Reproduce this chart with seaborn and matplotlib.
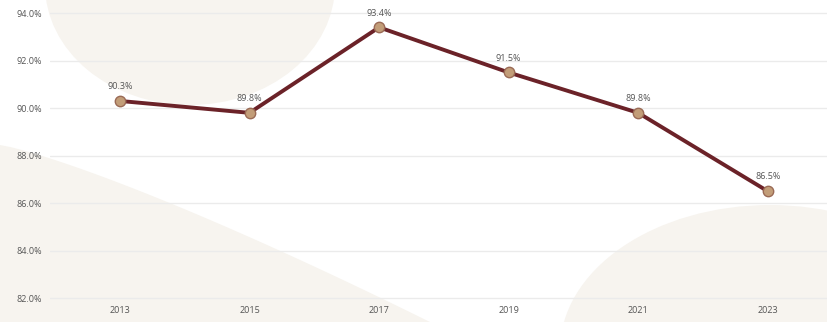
import numpy as np
import pandas as pd
import seaborn as sns
import matplotlib.pyplot as plt
from matplotlib.patches import Ellipse, Polygon

# values
years = [2013, 2015, 2017, 2019, 2021, 2023]
rates = [90.3, 89.8, 93.4, 91.5, 89.8, 86.5]
labels = ['90.3%', '89.8%', '93.4%', '91.5%', '89.8%', '86.5%']
yticks = [82, 84, 86, 88, 90, 92, 94]

df = pd.DataFrame({'year': years, 'rate': rates})

sns.set_theme(style='white')
plt.rcParams['font.family'] = ['Open Sans', 'DejaVu Sans']

W, H = 828, 322
fig = plt.figure(figsize=(W / 100, H / 100), dpi=100)
fig.patch.set_facecolor('white')

# decorative beige shapes in the background, on their own axes below the chart
bg = fig.add_axes([0, 0, 1, 1])
bg.set_xlim(0, W)
bg.set_ylim(H, 0)
bg.axis('off')
beige = '#f7f4ef'
bg.add_patch(Ellipse((190, -15), 290, 240, color=beige, lw=0))
bg.add_patch(Ellipse((770, 350), 420, 290, color=beige, lw=0))
curve_x = np.linspace(0, 430, 40)
curve_y = 145 + 177 * (curve_x / 430) ** 1.2
bg.add_patch(Polygon([(0, 322)] + list(zip(curve_x, curve_y)), closed=True,
                     color=beige, lw=0))

ax = fig.add_axes([50 / W, 1 - 300 / H, 1 - 50 / W, 295 / H])
ax.set_facecolor('none')
ax.set_zorder(2)

sns.lineplot(data=df, x='year', y='rate', ax=ax, color='#6b2228', linewidth=2.8,
             marker='o', markersize=7.5, markerfacecolor='#c29d78',
             markeredgecolor='#9a6a55', markeredgewidth=1)

for x, y, t in zip(years, rates, labels):
    ax.annotate(t, (x, y), xytext=(0, 7), textcoords='offset points',
                ha='center', va='bottom', fontsize=6.5, color='#555555')

ax.set_xlim(2011.92, 2023.93)
ax.set_ylim(81.92, 94.34)
ax.set_xticks(years)
ax.set_xticklabels([str(y) for y in years])
ax.set_yticks(yticks)
ax.set_yticklabels([f'{v:.1f}%' for v in yticks])
ax.grid(axis='y', color='#ebebeb', linewidth=1)
ax.set_axisbelow(True)
ax.tick_params(axis='both', labelsize=6.5, colors='#555555', length=0, pad=6)
ax.tick_params(axis='x', pad=4)
ax.set_xlabel('')
ax.set_ylabel('')
for s in ax.spines.values():
    s.set_visible(False)

fig.savefig('out.png', dpi=100)
